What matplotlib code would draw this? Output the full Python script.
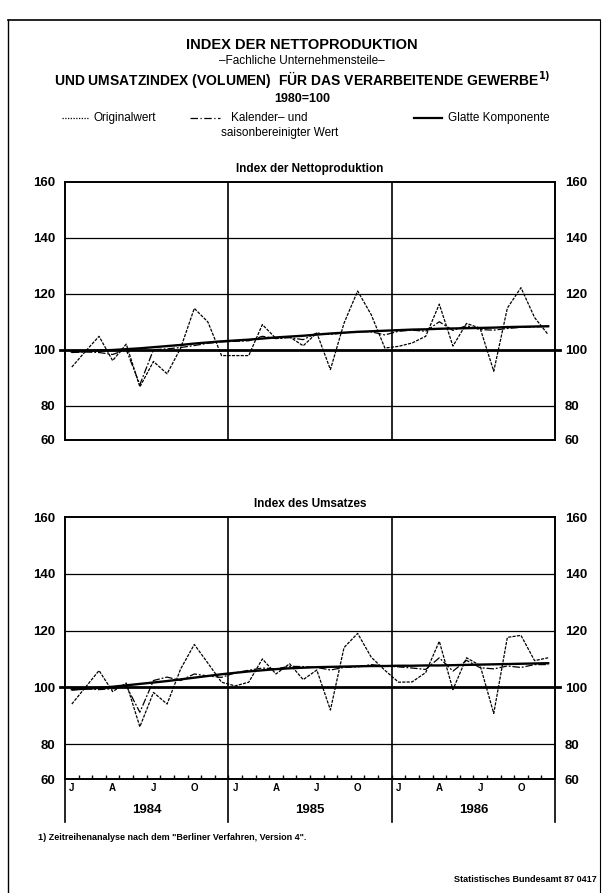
import matplotlib
matplotlib.use("Agg")
import matplotlib.pyplot as plt
import numpy as np

plt.rcParams['font.family'] = ['Liberation Sans', 'DejaVu Sans']

# Monatswerte Januar 1984 bis Dezember 1986
years = ['1984', '1985', '1986']
month_labels = ['J', 'A', 'J', 'O']

# Index der Nettoproduktion
prod_orig = [93.8, 99.4, 104.8, 96.1, 102.0, 86.7, 95.8, 91.4, 100.6, 114.8, 109.9, 97.9,
             97.9, 97.9, 109.0, 104.0, 104.6, 101.4, 106.0, 92.9, 109.5, 121.0, 112.5, 100.6,
             101.2, 102.4, 104.8, 116.3, 101.3, 109.4, 107.7, 92.3, 114.9, 122.2, 111.5, 105.4]
prod_adj = [99.0, 99.2, 99.0, 98.3, 100.0, 87.5, 100.0, 100.3, 100.8, 101.5, 102.3, 102.8,
            103.0, 103.2, 104.8, 104.0, 104.3, 103.6, 106.0, 105.5, 106.0, 106.5, 106.4, 105.3,
            106.6, 107.0, 106.6, 110.0, 106.9, 108.6, 107.2, 107.0, 107.6, 108.0, 108.2, 108.3]
prod_trend = [99.3, 99.5, 99.7, 99.9, 100.2, 100.5, 100.9, 101.3, 101.7, 102.2, 102.6, 103.0,
              103.3, 103.6, 104.0, 104.4, 104.7, 105.0, 105.4, 105.8, 106.1, 106.4, 106.6, 106.8,
              107.0, 107.2, 107.3, 107.5, 107.6, 107.7, 107.8, 107.9, 108.1, 108.2, 108.3, 108.4]

# Index des Umsatzes
ums_orig = [94.1, 100.0, 105.9, 98.5, 101.5, 86.1, 98.2, 94.1, 106.5, 115.1, 108.5, 101.8,
            100.5, 101.8, 110.0, 104.7, 108.3, 102.7, 106.1, 92.0, 114.0, 119.0, 110.6, 106.0,
            101.8, 101.9, 105.2, 116.2, 99.2, 110.4, 107.7, 90.8, 117.6, 118.3, 109.4, 110.4]
ums_adj = [99.0, 99.5, 99.2, 99.5, 100.5, 91.2, 102.4, 103.6, 102.4, 104.7, 104.0, 103.5,
           105.1, 106.0, 106.8, 106.5, 107.4, 107.3, 107.0, 106.1, 107.0, 107.2, 108.0, 107.5,
           107.2, 106.8, 106.3, 110.4, 105.7, 109.5, 106.9, 106.5, 107.5, 107.0, 108.0, 108.0]
ums_trend = [99.3, 99.5, 99.8, 100.2, 100.7, 101.2, 101.7, 102.2, 102.8, 103.4, 104.0, 104.6,
             105.1, 105.6, 106.0, 106.4, 106.7, 106.9, 107.1, 107.2, 107.3, 107.4, 107.5, 107.5,
             107.6, 107.6, 107.7, 107.7, 107.8, 107.9, 108.0, 108.1, 108.2, 108.3, 108.4, 108.5]

W, H = 604, 893
fig = plt.figure(figsize=(W / 100, H / 100), dpi=100)


def fx(px):
    return px / W


def fy(py):
    return 1 - py / H


# Rahmen
fig.add_artist(plt.Line2D([fx(8), fx(600)], [fy(20), fy(20)], color='black', lw=1.2))
fig.add_artist(plt.Line2D([fx(8), fx(8)], [fy(20), fy(893)], color='black', lw=1.0))
fig.add_artist(plt.Line2D([fx(600), fx(600)], [fy(20), fy(893)], color='black', lw=0.8))

fig.text(0.5, fy(45), 'INDEX DER NETTOPRODUKTION', ha='center', va='center',
         fontsize=10.5, fontweight='bold')
fig.text(0.5, fy(61), '\u2013Fachliche Unternehmensteile\u2013', ha='center', va='center',
         fontsize=8.5)
fig.text(0.5, fy(79), 'UND UMSATZINDEX (VOLUMEN)  F\u00dcR DAS VERARBEITENDE GEWERBE$^{\\mathbf{1)}}$',
         ha='center', va='center', fontsize=10, fontweight='bold')
fig.text(0.5, fy(99), '1980=100', ha='center', va='center', fontsize=9, fontweight='bold')

# Legende
ly = fy(118)
fig.add_artist(plt.Line2D([fx(62), fx(89)], [ly, ly], color='black', lw=0.9, ls=(0, (1, 1.2))))
fig.text(fx(93), ly, 'Originalwert', va='center', fontsize=8.5)
fig.add_artist(plt.Line2D([fx(190), fx(220)], [ly, ly], color='black', lw=0.9, ls=(0, (6, 2, 1, 2))))
fig.text(fx(231), ly, 'Kalender\u2013 und', va='center', fontsize=8.5)
fig.text(fx(221), fy(133), 'saisonbereinigter Wert', va='center', fontsize=8.5)
fig.add_artist(plt.Line2D([fx(414), fx(442)], [ly, ly], color='black', lw=1.6))
fig.text(fx(448), ly, 'Glatte Komponente', va='center', fontsize=8.5)

x = np.arange(36) + 0.5
AX_L, AX_R = 65, 555


def panel(top, bottom, title, orig, adj, trend, lower):
    ax = fig.add_axes([fx(AX_L), fy(bottom), fx(AX_R) - fx(AX_L), fy(top) - fy(bottom)])
    ymin = 67.7
    ax.set_xlim(0, 36)
    ax.set_ylim(ymin, 160)
    for v in [80, 120, 140]:
        ax.axhline(v, color='black', lw=0.9, zorder=1)
    ax.plot([-0.4, 36.4], [100, 100], color='black', lw=2.0, clip_on=False, zorder=2)
    for v in [12, 24]:
        ax.axvline(v, color='black', lw=1.2, zorder=1)
    ax.plot(x, orig, color='black', lw=0.9, ls=(0, (2.5, 1)), zorder=3)
    ax.plot(x, adj, color='black', lw=0.9, ls=(0, (6, 1.5, 1.5, 1.5)), zorder=3)
    ax.plot(x, trend, color='black', lw=1.7, zorder=4)
    ticks = [ymin, 80, 100, 120, 140, 160]
    labels = ['60', '80', '100', '120', '140', '160']
    ax.set_yticks(ticks)
    ax.set_yticklabels(labels, fontsize=9.5, fontweight='bold')
    ax.tick_params(axis='y', length=0, pad=7, labelright=True, labelleft=True)
    for s in ax.spines.values():
        s.set_linewidth(1.4)
    ax.set_title(title, fontsize=8.5, fontweight='bold', pad=7)
    if lower:
        ax.set_xticks(np.arange(1, 36), minor=True)
        ax.set_xticks(x[[0, 3, 6, 9, 12, 15, 18, 21, 24, 27, 30, 33]])
        ax.set_xticklabels(month_labels * 3, fontsize=7, fontweight='bold')
        ax.tick_params(axis='x', which='major', length=0, pad=3)
        ax.tick_params(axis='x', which='minor', direction='in', length=3, width=1.0)
        for i, yr in enumerate(years):
            ax.text(12 * i + 6, -0.12, yr, transform=ax.get_xaxis_transform(),
                    ha='center', va='center', fontsize=9.5, fontweight='bold')
        for v in [0, 12, 24, 36]:
            ax.plot([v, v], [0, -0.165], transform=ax.get_xaxis_transform(),
                    color='black', lw=1.2, clip_on=False)
    else:
        ax.set_xticks([])
    return ax


panel(182, 440, 'Index der Nettoproduktion', prod_orig, prod_adj, prod_trend, False)
panel(517, 779, 'Index des Umsatzes', ums_orig, ums_adj, ums_trend, True)

fig.text(fx(38), fy(838), '1) Zeitreihenanalyse nach dem "Berliner Verfahren, Version 4".',
         va='center', fontsize=6.5, fontweight='bold')
fig.text(fx(597), fy(880), 'Statistisches Bundesamt 87 0417', ha='right', va='center',
         fontsize=6.5, fontweight='bold')

fig.savefig('out.png', dpi=100)
